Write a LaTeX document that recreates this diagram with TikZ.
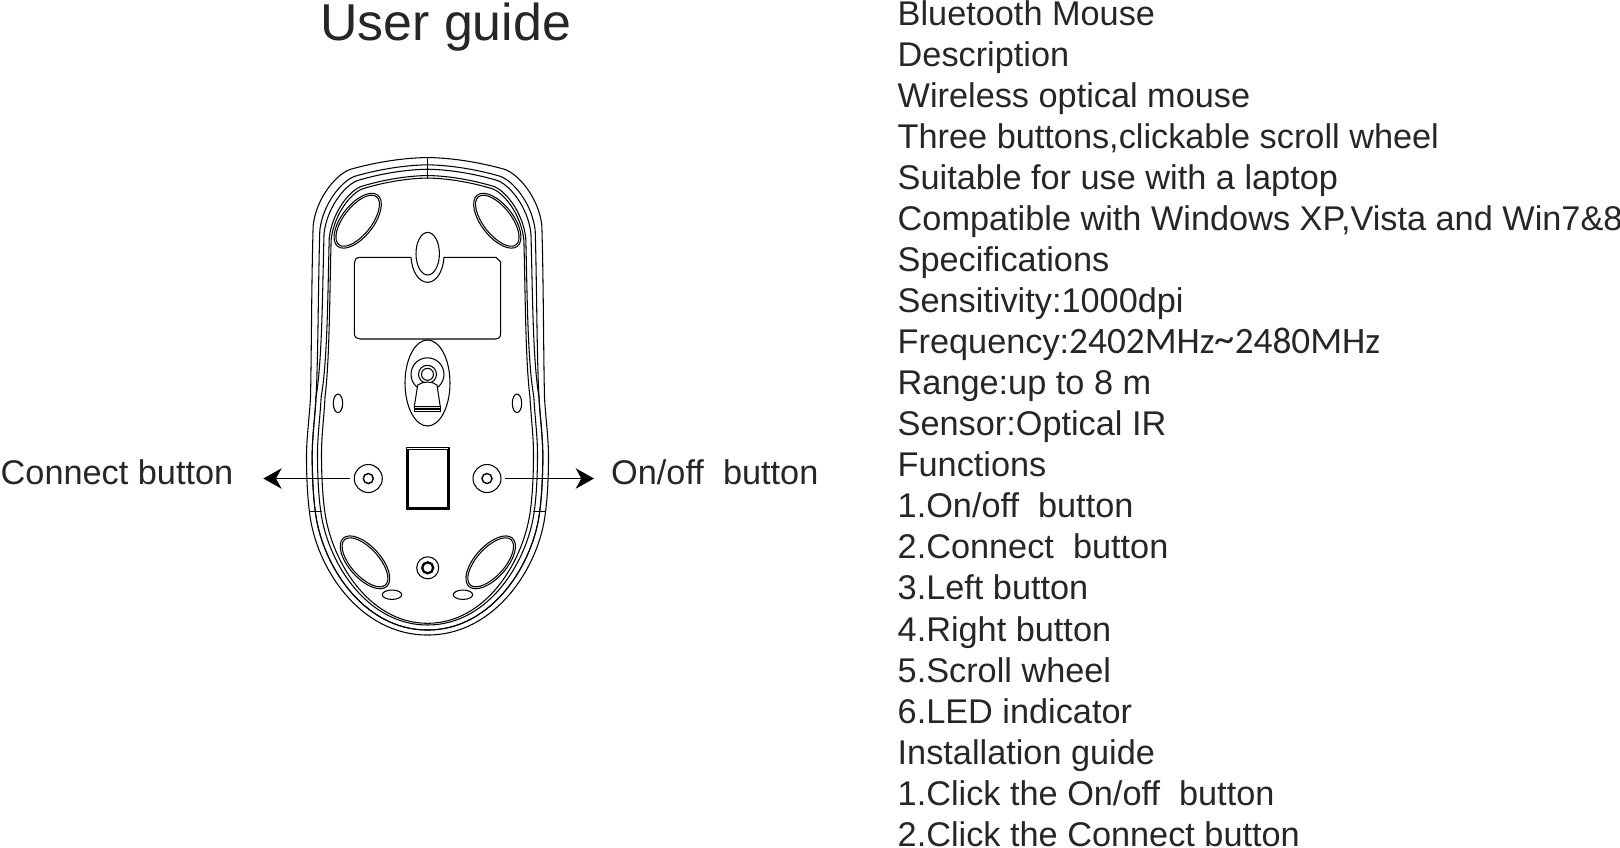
\documentclass[tikz,border=0pt]{standalone}
\usepackage{fontspec}
\setmainfont{Liberation Sans}
\newfontfamily\digitfont{Carlito}
\usetikzlibrary{arrows.meta}
\tikzset{
  line/.style={line width=0.3pt},
  foot/.style={line width=0.3pt},
  label/.style={font=\fontsize{9.75pt}{12pt}\selectfont, inner sep=0pt, text=black!85},
  screw/.style={draw, circle, line width=0.3pt, inner sep=0pt, minimum size=0.28cm, outer sep=1.1pt},
  pointer/.style={line width=0.5pt, -{Stealth[length=5.2pt, width=5.8pt, inset=1.6pt]}}
}
\newcommand{\outline}[4]{%
  \foreach \s in {1,-1} {
    \draw [line, shift={(427.5,397)}, xscale=\s*(121-#1)/121, yscale=(239.5-#2)/239.5]
      (0,-239.5) .. controls (30,-239) and (58,-233) .. (76,-228)
      .. controls (90,-224.3) and (111,-200) .. (114.3,-172)
      .. controls (116,-120) and (116,-40) .. ({117*(121-#3)/(121-#1)},0);
    \draw [line, shift={(427.5,397)}, xscale=\s*(121-#3)/121, yscale=(238-#4)/238]
      (117,0) .. controls (118,20) and (121,40) .. (121,60)
      .. controls (121,80) and (120,100) .. (118,115)
      .. controls (112,170) and (68,238) .. (0,238);
  }
}
\newcommand{\padfoot}[3]{%
  \draw [foot] (#1,#2) ellipse [x radius=32.5, y radius=16, rotate=#3];
  \draw [foot] (#1,#2) ellipse [x radius=30.5, y radius=14, rotate=#3];
}
\begin{document}
\begin{tikzpicture}[x=0.01cm,y=-0.01cm]
\useasboundingbox (0,0) rectangle (1620,847);
% body
\outline{0}{0}{0}{0}
\outline{7}{7.3}{5.7}{5}
\outline{11.5}{11.7}{5.7}{5}
\outline{17}{18}{11}{10}
\outline{19}{20.5}{15}{11.7}
\draw [line] (427.3,157.5) -- (427.3,178.5);
\draw [line] (309.3,511.7) -- (321.7,511.7);
\draw [line] (533.3,511.7) -- (546,511.7);
% feet
\padfoot{357.7}{220.7}{52}
\padfoot{497.3}{220.7}{-52}
\padfoot{365}{562.3}{-48}
\padfoot{490.7}{562.3}{48}
% battery cover
\draw [line] (427.7,253.7) ellipse [x radius=11.7, y radius=21.3];
\draw [line] (411,257.3) -- (360,257.3) .. controls (356,257.3) and (354.3,260) .. (354.3,263)
  -- (354.3,333) .. controls (354.3,337) and (357,339) .. (360,339)
  -- (495,339) .. controls (499,339) and (500.7,337) .. (500.7,333)
  -- (500.7,262) -- (496,257.3) -- (444,257.3)
  .. controls (443,272) and (436,282.3) .. (427.7,282.3)
  .. controls (419,282.3) and (412,272) .. (411,257.3);
% sensor
\draw [line] (427.5,383) ellipse [x radius=22.5, y radius=43];
\draw [line] (427.5,374.3) circle [radius=16.5];
\draw [line] (427.5,374.3) circle [radius=9];
\draw [line] (427.5,374.3) circle [radius=6];
\draw [line, fill=white] (417.7,385) -- (414.3,406.7) -- (440.3,406.7) -- (437,385)
  .. controls (432,381) and (423,381) .. (417.7,385);
\draw [line] (414.3,406.7) -- (414.3,411.7) -- (440.3,411.7) -- (440.3,406.7);
\draw [line] (414.3,409) -- (440.3,409);
% switch
\draw [line width=0.35pt] (406.2,447.5) rectangle (449,509.2);
\draw [line] (408,449.3) rectangle (447.8,507.8);
\draw [line width=0.55pt] (406.2,509) -- (449,509);
% small holes
\draw [line] (338,403.3) ellipse [x radius=4.7, y radius=9.3];
\draw [line] (517,403.3) ellipse [x radius=4.7, y radius=9.3];
\draw [line] (392,594.7) ellipse [x radius=9.7, y radius=4.7];
\draw [line] (463,594.7) ellipse [x radius=9.7, y radius=4.7];
% screws
\node [screw] (leftscrew) at (368.3,478.5) {};
\node [screw] (rightscrew) at (487,478.5) {};
\draw [line width=0.4pt] (368.3,478.5) circle [radius=5];
\draw [line width=0.4pt] (487,478.5) circle [radius=5];
\node [screw, minimum size=0.22cm] (lowscrew) at (427.7,567.8) {};
\draw [line width=0.65pt] (427.7,567.8) circle [radius=5.5];
% arrows
\coordinate (lefttip) at (263.3,478.5);
\coordinate (righttip) at (594,478.5);
\draw [pointer] (leftscrew) -- (lefttip);
\draw [pointer] (rightscrew) -- (righttip);
% labels
\node [label, anchor=base west, font=\fontsize{14.75pt}{18pt}\selectfont] (title) at (319.5,40) {User guide};
\node [label, anchor=base west] (connect) at (0,484) {Connect button};
\node [label, anchor=base west] (onoff) at (610.5,484) {On/off\ \ button};
\foreach \txt [count=\i from 0] in {Bluetooth Mouse, Description, Wireless optical mouse,
  {Three buttons,clickable scroll wheel}, Suitable for use with a laptop,
  {Compatible with Windows XP,Vista and Win7\&8}, Specifications, Sensitivity:1000dpi,
  Frequency:{\digitfont\fontsize{10.6pt}{12pt}\selectfont 2402MHz\raisebox{0.3pt}{\fontsize{11.5pt}{12pt}\selectfont\textasciitilde}2480MHz}, Range:up to 8 m, Sensor:Optical IR, Functions,
  1.On/off\ \ button, 2.Connect\ \ button, 3.Left button, 4.Right button, 5.Scroll wheel,
  6.LED indicator, Installation guide, 1.Click the On/off\ \ button, 2.Click the Connect button}
  \node [label, anchor=base west] (spec\i) at (897,{25.5+41.03*\i+0.6*(\i>14)}) {\txt};
\end{tikzpicture}
\end{document}
